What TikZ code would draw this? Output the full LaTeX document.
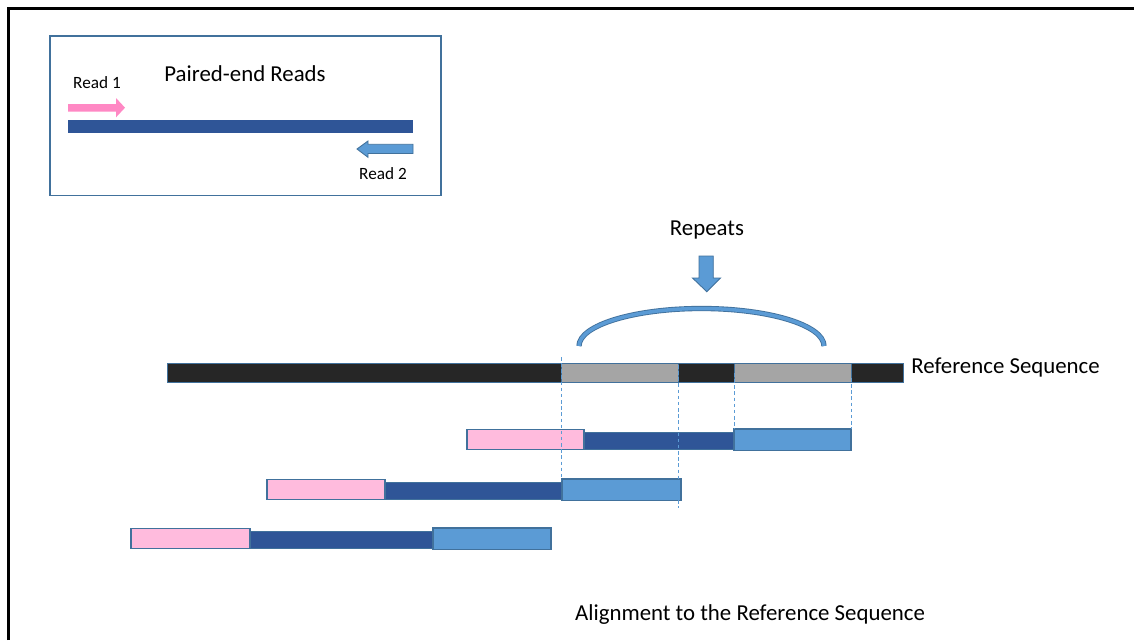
\documentclass[tikz,border=0pt]{standalone}
\usepackage{fontspec}
\setmainfont{Carlito}
\usepackage{tikz}
\definecolor{frameblue}{HTML}{41719C}
\definecolor{lightblue}{HTML}{5B9BD5}
\definecolor{darkblue}{HTML}{2F5597}
\definecolor{readpink}{HTML}{FFBBDD}
\definecolor{arrowpink}{HTML}{FF88C4}
\definecolor{refblack}{HTML}{262626}
\definecolor{refgray}{HTML}{A5A5A5}

\begin{document}
\begin{tikzpicture}[x=0.02cm, y=-0.02cm,
  every node/.style={font=\fontsize{13}{15}\selectfont, inner sep=0pt},
  small/.style={font=\fontsize{9.8}{12}\selectfont},
  seg/.style={draw=frameblue, line width=0.4pt},
  readbox/.style={draw=frameblue, line width=0.8pt},
  guide/.style={lightblue, line width=0.5pt, dash pattern=on 2pt off 1.5pt}]
\useasboundingbox (0,0) rectangle (1134,640);
\fill[white] (0,0) rectangle (1134,640);
\draw[line width=1.4pt] (8.5,640) -- (8.5,8.5) -- (1134,8.5);
%% --- Inset: paired-end reads ---
\draw[frameblue, line width=0.7pt] (50,36) rectangle (441,195.5);
\node (title) at (245,73.5) {Paired-end Reads};
\node[small] (rdone) at (97,83) {Read 1};
\node[small] (rdtwo) at (383,174) {Read 2};
\fill[arrowpink] (68,104) -- (116,104) -- (116,98) -- (125,107.7) -- (116,117.3)
  -- (116,111.5) -- (68,111.5) -- cycle;
\fill[darkblue] (68,119.5) rectangle (413,132.7);
\filldraw[fill=lightblue, draw=frameblue, line width=0.5pt] (413,144.3) -- (368,144.3)
  -- (368,141) -- (357,149) -- (368,157.3) -- (368,153.5) -- (413,153.5) -- cycle;
%% --- Repeats ---
\node (rep) at (707,230) {Repeats};
\filldraw[fill=lightblue, draw=frameblue, line width=0.5pt] (699,256) -- (713.3,256)
  -- (713.3,278) -- (720.5,278) -- (706.8,291.7) -- (692.5,278) -- (699,278) -- cycle;
\draw[frameblue, line width=3pt] (579,346) arc[start angle=180, end angle=360, x radius=122.5, y radius=37.5];
\draw[lightblue, line width=2pt] (579,346) arc[start angle=180, end angle=360, x radius=122.5, y radius=37.5];
%% --- Reference sequence ---
\foreach \a/\b/\c in {167/561/refblack, 561/678/refgray, 678/734/refblack,
                      734/851/refgray, 851/903/refblack} {
  \filldraw[seg, fill=\c] (\a,363.5) rectangle (\b,382.5);
}
\node[anchor=west] (reflbl) at (911,367.5) {Reference Sequence};
%% --- Aligned read pairs ---
\foreach \a/\b/\c/\d/\y in {467/584/734/851/429.5, 267/385/562/681/479.5,
                            131/250/433/551/528.5} {
  \filldraw[draw=frameblue, line width=0.3pt, fill=darkblue] (\b,\y+3) rectangle (\c,\y+20);
  \filldraw[readbox, fill=readpink] (\a,\y) rectangle (\b,\y+20);
  \filldraw[readbox, fill=lightblue] (\c,\y-0.5) rectangle (\d,\y+21);
}
\draw[guide] (561,357) -- (561,480);
\draw[guide] (678,365) -- (678,508);
\draw[guide] (734,373) -- (734,429);
\draw[guide] (851,378) -- (851,429);
\node (alnlbl) at (750,614.5) {Alignment to the Reference Sequence};
\end{tikzpicture}
\end{document}
